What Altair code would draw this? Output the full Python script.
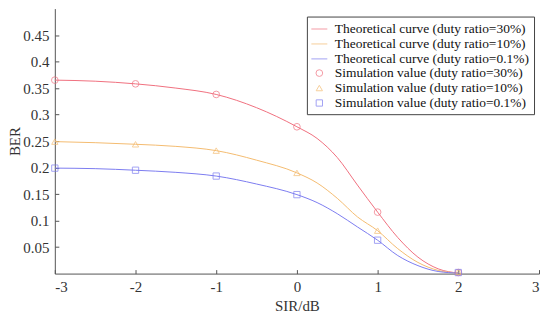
import altair as alt
import pandas as pd

# Theoretical curves
curve_x = [-3, -2.5, -2, -1.5, -1, -0.5, 0, 0.25, 0.5, 0.75, 1, 1.25, 1.5, 1.75, 2]
curve_30 = [0.365, 0.363, 0.358, 0.350, 0.338, 0.313, 0.277, 0.255, 0.219, 0.167, 0.116, 0.068, 0.031, 0.009, 0.001]
curve_10 = [0.249, 0.247, 0.244, 0.240, 0.232, 0.214, 0.190, 0.171, 0.142, 0.107, 0.081, 0.047, 0.021, 0.006, 0.001]
curve_01 = [0.199, 0.198, 0.195, 0.191, 0.184, 0.169, 0.149, 0.134, 0.113, 0.088, 0.063, 0.034, 0.015, 0.004, 0.001]

# Simulation values
sim_x = [-3, -2, -1, 0, 1, 2]
sim_30 = [0.365, 0.358, 0.338, 0.277, 0.116, 0.002]
sim_10 = [0.249, 0.244, 0.232, 0.190, 0.081, 0.003]
sim_01 = [0.199, 0.195, 0.184, 0.149, 0.063, 0.002]

labels = [
    "Theoretical curve (duty ratio=30%)",
    "Theoretical curve (duty ratio=10%)",
    "Theoretical curve (duty ratio=0.1%)",
    "Simulation value (duty ratio=30%)",
    "Simulation value (duty ratio=10%)",
    "Simulation value (duty ratio=0.1%)",
]
colors = ["#f07080", "#f4bc70", "#7c7cf0", "#f07080", "#f4bc70", "#7c7cf0"]
shapes = ["stroke", "stroke", "stroke", "circle", "triangle-up", "square"]
sizes = [256, 256, 256, 45, 40, 40]

y_ticks = [0.05, 0.1, 0.15, 0.2, 0.25, 0.3, 0.35, 0.4, 0.45]
x_ticks = [-3, -2, -1, 0, 1, 2, 3]

rows = []
for lab, ys in zip(labels[:3], [curve_30, curve_10, curve_01]):
    for x, y in zip(curve_x, ys):
        rows.append({"SIR": x, "BER": y, "series": lab})
lines_df = pd.DataFrame(rows)

rows = []
for lab, ys in zip(labels[3:], [sim_30, sim_10, sim_01]):
    for x, y in zip(sim_x, ys):
        rows.append({"SIR": x, "BER": y, "series": lab})
pts_df = pd.DataFrame(rows)

font = "Liberation Serif"
xs = alt.Scale(domain=[-3, 3], nice=False)
ys_ = alt.Scale(domain=[0, 0.5], nice=False)

# main axes: domain + labels + titles, no ticks
x_main = alt.X("SIR:Q", scale=xs,
               axis=alt.Axis(title="SIR/dB", values=x_ticks, grid=False, ticks=False,
                             labelExpr="datum.value + ''", labelPadding=6, titlePadding=4))
y_main = alt.Y("BER:Q", scale=ys_,
               axis=alt.Axis(title="BER", values=y_ticks, grid=False, ticks=False,
                             format=".2~f", labelPadding=6, titlePadding=0))
# secondary axes: only inward ticks
x_tick = alt.X("SIR:Q", scale=xs,
               axis=alt.Axis(orient="bottom", offset=-4, values=x_ticks, domain=False,
                             labels=False, title=None, grid=False, tickSize=4))
y_tick = alt.Y("BER:Q", scale=ys_,
               axis=alt.Axis(orient="left", offset=-4, values=y_ticks, domain=False,
                             labels=False, title=None, grid=False, tickSize=4))

color_scale = alt.Scale(domain=labels, range=colors)

legend = alt.Legend(
    title=None, orient="none", legendX=253, legendY=8,
    labelFont=font, labelFontSize=13.5, labelColor="#111", labelLimit=400,
    strokeColor="#444", fillColor="white", padding=4, rowPadding=0,
    labelOffset=7, symbolStrokeWidth=1, symbolFillColor="transparent",
)

lines = alt.Chart(lines_df).mark_line(interpolate="monotone", strokeWidth=1).encode(
    x=x_main, y=y_main,
    color=alt.Color("series:N", scale=color_scale, legend=legend),
    detail="series:N",
)

points = alt.Chart(pts_df).mark_point(filled=False, strokeWidth=1).encode(
    x=x_tick, y=y_tick,
    color=alt.Color("series:N", scale=color_scale, legend=legend),
    shape=alt.Shape("series:N", scale=alt.Scale(domain=labels, range=shapes), legend=legend),
    size=alt.Size("series:N", scale=alt.Scale(type="ordinal", domain=labels, range=sizes), legend=legend),
)

chart = alt.layer(lines, points).resolve_axis(x="independent", y="independent").properties(
    width=486, height=266,
    autosize=alt.AutoSizeParams(type="none"),
    padding={"left": 47, "top": 0, "right": 3, "bottom": 46},
).configure_view(stroke=None).configure_axis(
    labelFont=font, titleFont=font, labelFontSize=15, titleFontSize=15,
    titleFontWeight="normal", labelColor="#333", titleColor="#333",
    domainColor="#555", tickColor="#555", domainWidth=1,
)

chart.save("out.html", embed_options={"renderer": "svg", "actions": False})
